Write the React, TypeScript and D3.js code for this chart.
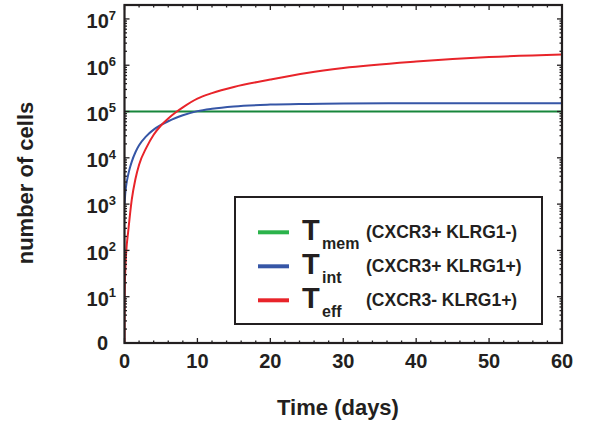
import React from 'react';
import * as d3 from 'd3';

// time points (days)
const days = [0, 0.02, 0.05, 0.1, 0.25, 0.5, 0.75, 1, 1.5, 2, 3, 4, 5, 6, 7, 8, 10, 12, 15, 20, 25, 30, 40, 50, 60];

// number of cells per population
const tMem = [1e5, 1e5, 1e5, 1e5, 1e5, 1e5, 1e5, 1e5, 1e5, 1e5, 1e5, 1e5, 1e5, 1e5, 1e5, 1e5, 1e5, 1e5, 1e5, 1e5, 1e5, 1e5, 1e5, 1e5, 1e5];
const tInt = [1000, 1100, 1260, 1660, 2630, 4270, 6170, 8300, 13200, 18600, 29500, 40700, 51300, 61700, 72400, 83200, 102000, 115000, 129000, 141000, 146000, 149000, 151000, 151000, 151000];
const tEff = [1, 8, 18, 35, 100, 250, 590, 1260, 3500, 7100, 16600, 31600, 50000, 71000, 95000, 123000, 190000, 250000, 340000, 490000, 680000, 870000, 1200000, 1500000, 1700000];

const xTicks = [0, 10, 20, 30, 40, 50, 60];
const yExponents = [1, 2, 3, 4, 5, 6, 7];

const series = [
  { name: 'mem', desc: '(CXCR3+ KLRG1-)', values: tMem, color: '#17863b', legendColor: '#2bb34b' },
  { name: 'int', desc: '(CXCR3+ KLRG1+)', values: tInt, color: '#3656a6', legendColor: '#3656a6' },
  { name: 'eff', desc: '(CXCR3- KLRG1+)', values: tEff, color: '#e8242a', legendColor: '#e8242a' },
];

const W = 593;
const H = 423;
const left = 124.5, right = 562, top = 5, bottom = 343;
const font = '"Liberation Sans", Arial, sans-serif';

export default function App() {
  const x = d3.scaleLinear().domain([0, 60]).range([left, right]);
  const y = d3.scaleLog().domain([1, 2e7]).range([bottom, top]);

  const line = d3.line<number>()
    .x((_, i) => x(days[i]))
    .y(d => y(d))
    .curve(d3.curveMonotoneX);

  const xMinor = d3.range(0, 61, 2).filter(d => d % 10 !== 0);
  const yMinor: number[] = [];
  for (let e = 0; e <= 7; e++) {
    for (let m = 2; m <= 9; m++) {
      const v = m * Math.pow(10, e);
      if (v <= 2e7) yMinor.push(v);
    }
  }
  const yMajor = [1, ...yExponents.map(e => Math.pow(10, e))];

  const major = 5, minor = 2.5;

  return (
    <svg width={W} height={H} style={{ position: 'absolute', left: 0, top: 0, background: '#fff' }}
      fontFamily={font} fontWeight="bold">
      <defs>
        <clipPath id="plot">
          <rect x={left} y={top} width={right - left} height={bottom - top} />
        </clipPath>
      </defs>

      {/* curves */}
      <g clipPath="url(#plot)" fill="none" strokeWidth={2}>
        {series.map(s => (
          <path key={s.name} d={line(s.values) || ''} stroke={s.color} />
        ))}
      </g>

      {/* ticks, inside, mirrored */}
      <g stroke="#231f20" strokeWidth={1.3}>
        {xTicks.map(t => (
          <g key={'xt' + t}>
            <line x1={x(t)} x2={x(t)} y1={bottom} y2={bottom - major} />
            <line x1={x(t)} x2={x(t)} y1={top} y2={top + major} />
          </g>
        ))}
        {xMinor.map(t => (
          <g key={'xm' + t}>
            <line x1={x(t)} x2={x(t)} y1={bottom} y2={bottom - minor} />
            <line x1={x(t)} x2={x(t)} y1={top} y2={top + minor} />
          </g>
        ))}
        {yMajor.map(v => (
          <g key={'yt' + v}>
            <line x1={left} x2={left + major} y1={y(v)} y2={y(v)} />
            <line x1={right} x2={right - major} y1={y(v)} y2={y(v)} />
          </g>
        ))}
        {yMinor.map(v => (
          <g key={'ym' + v}>
            <line x1={left} x2={left + minor} y1={y(v)} y2={y(v)} />
            <line x1={right} x2={right - minor} y1={y(v)} y2={y(v)} />
          </g>
        ))}
      </g>

      {/* frame */}
      <rect x={left} y={top} width={right - left} height={bottom - top} fill="none" stroke="#231f20" strokeWidth={2.2} />

      {/* y tick labels */}
      <g fill="#231f20" fontSize={20}>
        <text x={108} y={y(1) + 7} textAnchor="end">0</text>
        {yExponents.map(e => (
          <text key={'yl' + e} x={116} y={y(Math.pow(10, e)) + 9.3} textAnchor="end">
            10<tspan fontSize={13} dy={-8.6}>{e}</tspan>
          </text>
        ))}
      </g>

      {/* x tick labels */}
      <g fill="#231f20" fontSize={20} textAnchor="middle">
        {xTicks.map(t => (
          <text key={'xl' + t} x={x(t)} y={368}>{t}</text>
        ))}
      </g>

      {/* axis titles */}
      <text x={338} y={415} textAnchor="middle" fontSize={22} fill="#231f20">Time (days)</text>
      <text transform="translate(33,183) rotate(-90)" textAnchor="middle" fontSize={22} fill="#231f20">number of cells</text>

      {/* legend */}
      <rect x={235} y={197} width={307} height={127} fill="#fff" stroke="#231f20" strokeWidth={2} />
      {series.map((s, i) => {
        const ly = 232.3 + i * 34;
        return (
          <g key={'lg' + s.name} fill="#231f20">
            <line x1={258} x2={289} y1={ly} y2={ly} stroke={s.legendColor} strokeWidth={4} />
            <text x={302} y={ly + 7.5} fontSize={29}>T</text>
            <text x={322} y={ly + 17} fontSize={16}>{s.name}</text>
            <text x={366} y={ly + 6} fontSize={17.5}>{s.desc}</text>
          </g>
        );
      })}
    </svg>
  );
}
